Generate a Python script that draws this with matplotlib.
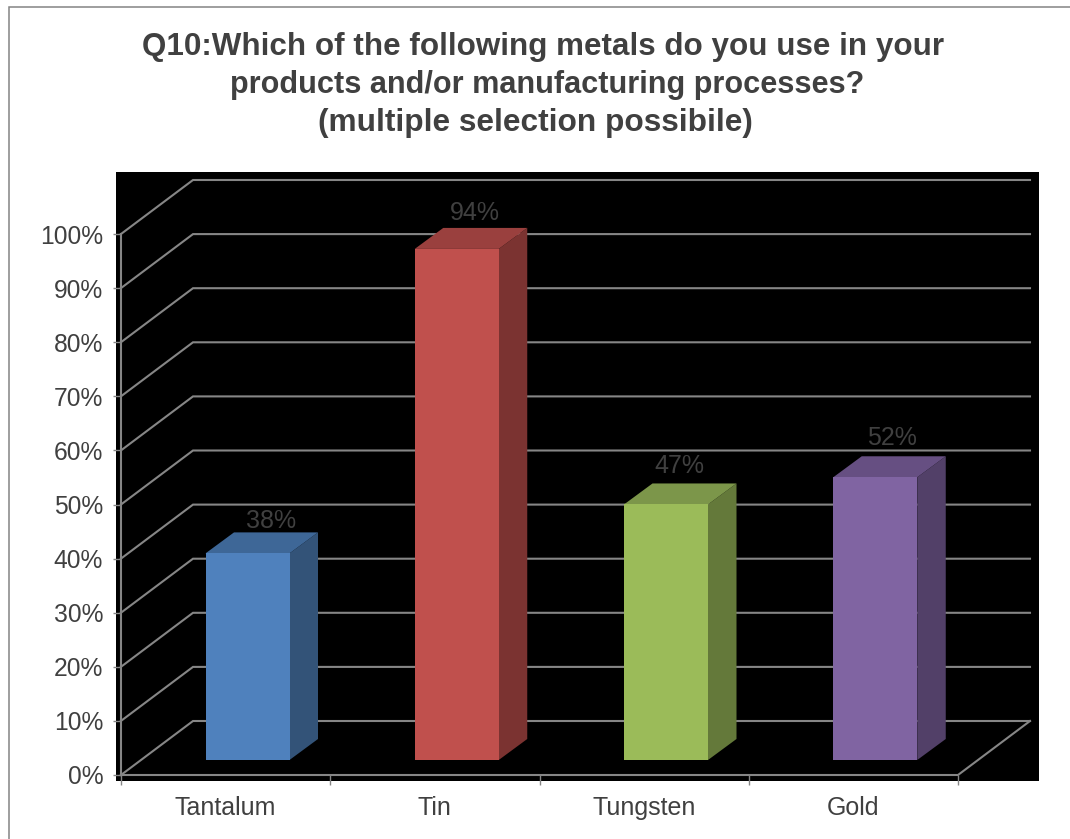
import matplotlib
matplotlib.use("Agg")
import matplotlib.pyplot as plt
from matplotlib.lines import Line2D
from matplotlib.patches import Polygon, Rectangle

categories = ["Tantalum", "Tin", "Tungsten", "Gold"]
values = [38, 94, 47, 52]
front_colors = ["#4f81bd", "#c0504d", "#9bbb59", "#8064a2"]
side_colors = ["#335378", "#7b3331", "#64793a", "#524068"]
top_colors = ["#3e6797", "#9a403e", "#7c964a", "#664f82"]
y_ticks = list(range(0, 101, 10))
title_lines = [
    "Q10:Which of the following metals do you use in your",
    "products and/or manufacturing processes?",
    "(multiple selection possibile)",
]

# value label placement, pixels from the bar's left edge and above its back top edge
label_shift = [66, 60, 55, 59]
label_rise = [11.5, 14.5, 17.5, 18.5]
title_centers = [543.5, 547, 535.5]
title_rows = [47, 85, 123]
title_sizes = [22.6, 22.1, 22.8]

GRID = "#868686"
TEXT = "#404040"

W, H = 1070, 839
X0, Y0 = 121, 775       # pixel position of the front corner, 0%
CAT_W = 209.25          # pixels per category
PCT = 5.41              # pixels per percent
WALL_DX = 72 / CAT_W    # back wall shift, data units
WALL_DY = 54 / PCT
BAR_DX = 28.5 / CAT_W   # bar depth, data units
BAR_DY = 21 / PCT
BAR_LEFT = 84.5 / CAT_W  # gap in front of the bar inside its category
BAR_W = 84 / CAT_W
BAR_BASE = 15 / PCT
BAR_SCALE = 1.005       # bars stand slightly nearer the viewer than the axis


def px_x(p):
    return (p - X0) / CAT_W


def px_y(p):
    return (Y0 - p) / PCT


plt.rcParams["font.family"] = ["Liberation Sans", "DejaVu Sans"]
fig = plt.figure(figsize=(W / 100, H / 100), dpi=100, facecolor="white")

# chart frame, open on the right and at the bottom
fig.add_artist(Line2D([8.5 / W, 8.5 / W, 1], [0, 1 - 6.5 / H, 1 - 6.5 / H], transform=fig.transFigure,
                      color="#848484", lw=1.1, solid_joinstyle="miter"))

# axes spans the black panel, limits chosen so data units land on the panel pixels
left, right, top, bottom = 116, 1039, 172, 781
ax = fig.add_axes([left / W, 1 - bottom / H, (right - left) / W, (bottom - top) / H])
ax.set_facecolor("black")
ax.set_xlim(px_x(left), px_x(right))
ax.set_ylim(px_y(bottom), px_y(top))
for s in ax.spines.values():
    s.set_visible(False)
ax.spines["left"].set_position(("data", 0))
ax.spines["bottom"].set_position(("data", 0))

n = len(categories)

# back wall and side wall gridlines
for t in y_ticks:
    ax.plot([0, WALL_DX, n + WALL_DX], [t, t + WALL_DY, t + WALL_DY],
            color=GRID, lw=1.5, solid_joinstyle="miter", zorder=1)
ax.plot([0, 0], [0, 100], color=GRID, lw=1.5, zorder=1)
ax.plot([0, n, n + WALL_DX], [0, 0, WALL_DY], color=GRID, lw=1.5, zorder=1)

# 3D bars: side face, top face, front face
for i, (name, v) in enumerate(zip(categories, values)):
    x1 = i + BAR_LEFT
    x2 = x1 + BAR_W
    y1 = BAR_BASE
    y2 = BAR_BASE + v * BAR_SCALE
    ax.add_patch(Polygon([(x2, y1), (x2 + BAR_DX, y1 + BAR_DY), (x2 + BAR_DX, y2 + BAR_DY), (x2, y2)],
                         facecolor=side_colors[i], edgecolor="none", zorder=3))
    ax.add_patch(Polygon([(x1, y2), (x2, y2), (x2 + BAR_DX, y2 + BAR_DY), (x1 + BAR_DX, y2 + BAR_DY)],
                         facecolor=top_colors[i], edgecolor="none", zorder=3))
    ax.add_patch(Rectangle((x1, y1), BAR_W, y2 - y1, facecolor=front_colors[i], edgecolor="none", zorder=4))
    ax.text(x1 + label_shift[i] / CAT_W, y2 + BAR_DY + label_rise[i] / PCT, f"{v}%", ha="center", va="center",
            color=TEXT, fontsize=18, zorder=5)

ax.set_xticks(range(n + 1))
ax.set_xticklabels([])
ax.set_yticks(y_ticks)
ax.set_yticklabels([f"{t}%" for t in y_ticks], fontsize=17.7, color=TEXT)
ax.tick_params(axis="y", length=5.8, width=1, color=GRID, pad=7, direction="out")
ax.tick_params(axis="x", length=7, width=1, color=GRID, direction="out")
ax.xaxis.set_ticks_position("bottom")
ax.yaxis.set_ticks_position("left")
for i, name in enumerate(categories):
    ax.text(i + 0.5, px_y(808), name, ha="center", va="center", fontsize=18, color=TEXT, clip_on=False)

for line, cx, y, size in zip(title_lines, title_centers, title_rows, title_sizes):
    fig.text(cx / W, 1 - y / H, line, ha="center", va="center", fontsize=size, fontweight="bold", color=TEXT)

fig.savefig("out.png", dpi=100, facecolor="white")
